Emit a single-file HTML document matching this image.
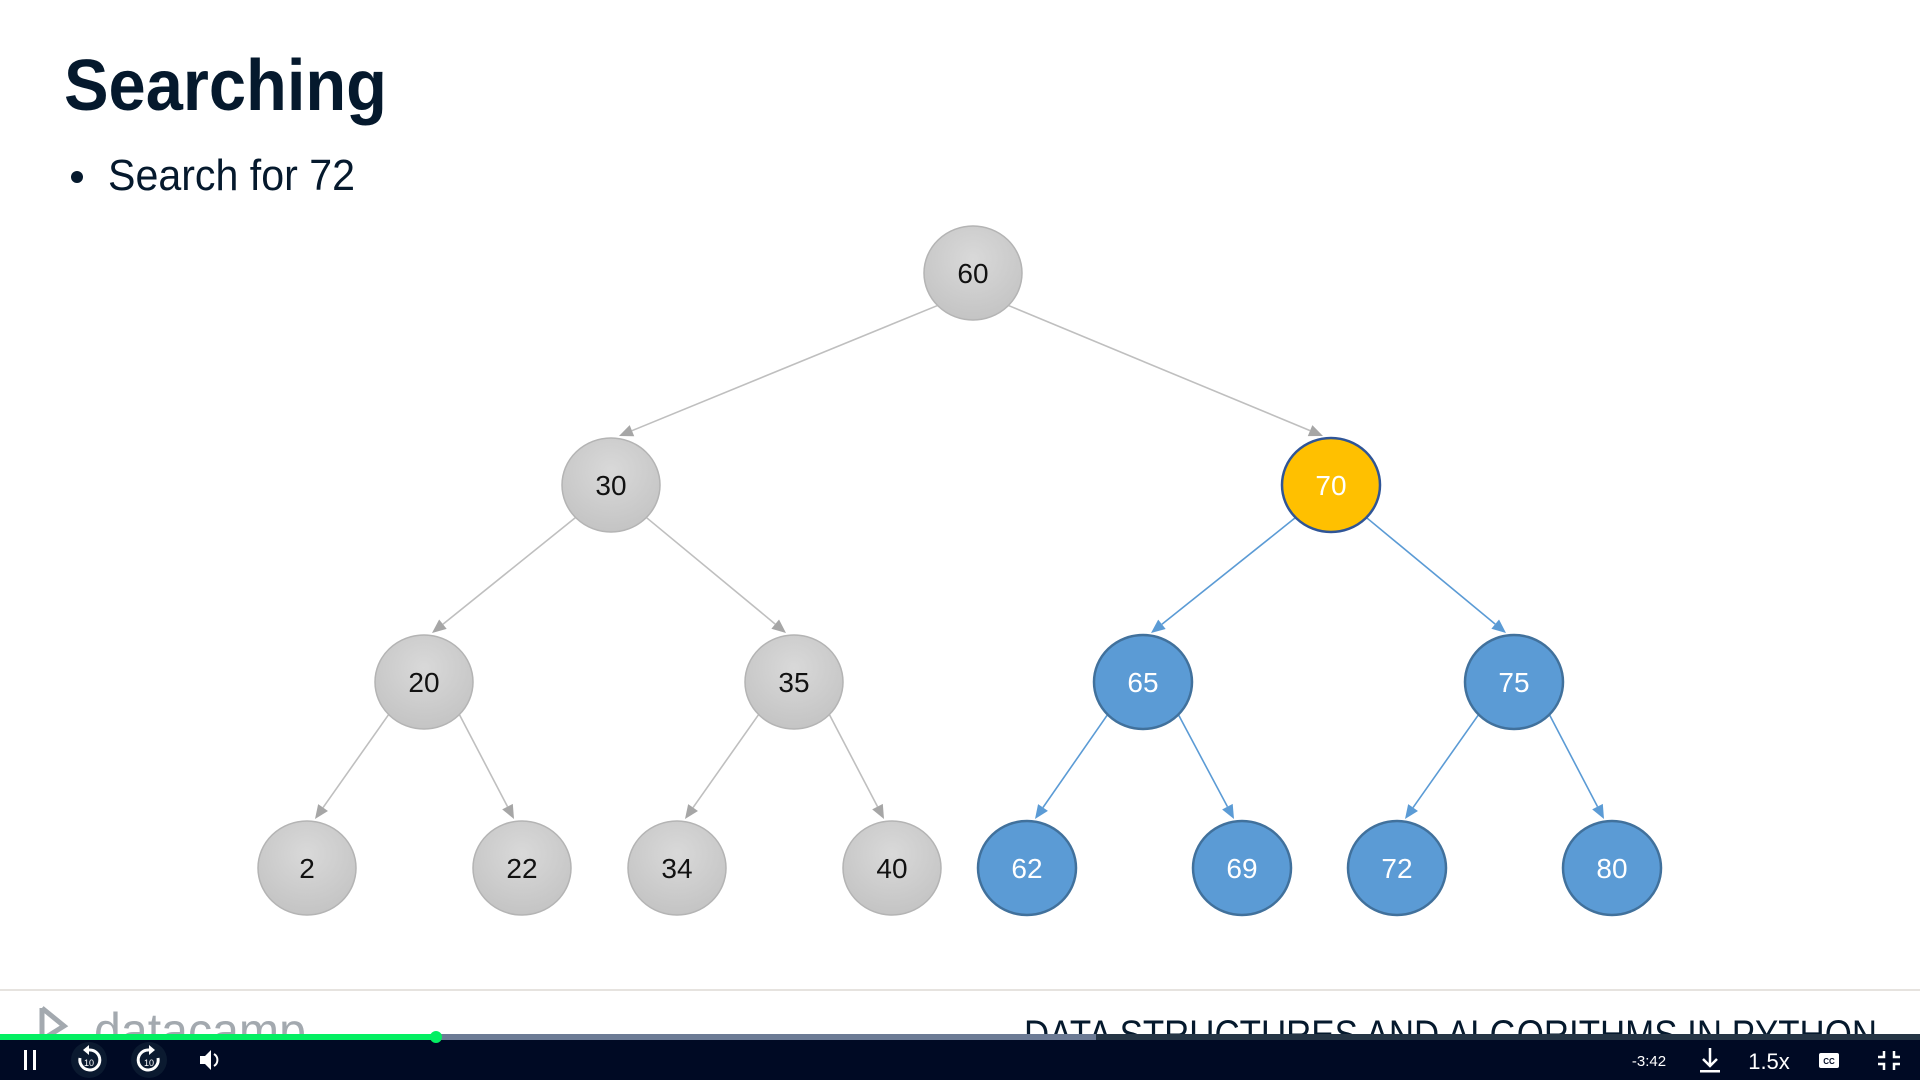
<!DOCTYPE html>
<html><head><meta charset="utf-8"><style>
html,body{margin:0;padding:0;background:#fff;width:1920px;height:1080px;overflow:hidden}
svg{display:block}
</style></head><body>
<svg id="s" width="1920" height="1080" viewBox="0 0 1920 1080" xmlns="http://www.w3.org/2000/svg">
<defs>
<radialGradient id="gg" cx="50%" cy="35%" r="65%"><stop offset="0" stop-color="#d9d9d9"/><stop offset="1" stop-color="#c4c4c4"/></radialGradient>
</defs>
<text x="64" y="110" font-family="Liberation Sans, sans-serif" font-weight="bold" font-size="72" fill="#05192d" textLength="323" lengthAdjust="spacingAndGlyphs">Searching</text>
<circle cx="77" cy="177" r="6" fill="#05192d"/>
<text x="108" y="190" font-family="Liberation Sans, sans-serif" font-size="44" fill="#05192d" textLength="247" lengthAdjust="spacingAndGlyphs">Search for 72</text>
<g id="tree"></g>
<line x1="0" y1="990" x2="1920" y2="990" stroke="#e6e3df" stroke-width="2"/>
<g>
<path d="M42 1008 L42 1040 M42 1008 L64 1026 L48 1036" stroke="#a3a9af" stroke-width="5" fill="none"/>
<text x="94" y="1048" font-family="Liberation Sans, sans-serif" font-size="50" fill="#a3a9af" textLength="212" lengthAdjust="spacingAndGlyphs">datacamp</text>
</g>
<text x="1024" y="1048" font-family="Liberation Sans, sans-serif" font-size="40" fill="#05192d" textLength="853" lengthAdjust="spacingAndGlyphs">DATA STRUCTURES AND ALGORITHMS IN PYTHON</text>
<rect x="0" y="1035" width="1920" height="45" fill="#000a24"/>
<rect x="0" y="1034" width="1920" height="6" fill="#253545"/>
<rect x="436" y="1034" width="660" height="6" fill="#6c7b95"/>
<rect x="0" y="1034" width="436" height="6" fill="#03ef62"/>
<circle cx="436" cy="1037" r="6" fill="#03ef62"/>
<g><rect x="24" y="1050" width="3" height="20" fill="#fff"/><rect x="33" y="1050" width="3" height="20" fill="#fff"/></g>
<g><circle cx="89" cy="1060" r="18" fill="#0b1a30"/><path d="M80 1058 A10 10 0 1 0 89 1050" stroke="#fff" stroke-width="3" fill="none"/><path d="M89 1045 L83 1050 L89 1055Z" fill="#fff"/><text x="89" y="1066" font-size="9" text-anchor="middle" fill="#fff" font-family="Liberation Sans, sans-serif">10</text></g>
<g><circle cx="149" cy="1060" r="18" fill="#0b1a30"/><path d="M158 1058 A10 10 0 1 1 149 1050" stroke="#fff" stroke-width="3" fill="none"/><path d="M149 1045 L155 1050 L149 1055Z" fill="#fff"/><text x="149" y="1066" font-size="9" text-anchor="middle" fill="#fff" font-family="Liberation Sans, sans-serif">10</text></g>
<g><path d="M200 1056 h5 l6 -6 v20 l-6 -6 h-5z" fill="#fff"/><path d="M214 1054 a7 7 0 0 1 0 12" stroke="#fff" stroke-width="2" fill="none"/></g>
<text x="1649" y="1066" font-size="15" text-anchor="middle" fill="#fff" font-family="Liberation Sans, sans-serif">-3:42</text>
<g><path d="M1710 1048 v18 M1703 1059 l7 7 l7 -7" stroke="#fff" stroke-width="2.5" fill="none"/><rect x="1700" y="1070" width="20" height="2.5" fill="#fff"/></g>
<text x="1769" y="1069" font-size="22" text-anchor="middle" fill="#fff" font-family="Liberation Sans, sans-serif">1.5x</text>
<g><rect x="1819" y="1053" width="20" height="15" rx="2" fill="#fff"/><text x="1829" y="1064" font-size="8" font-weight="bold" text-anchor="middle" fill="#000a24" font-family="Liberation Sans, sans-serif">CC</text></g>
<g stroke="#fff" stroke-width="2.5" fill="none"><path d="M1884 1051 v6 h-6 M1894 1051 v6 h6 M1884 1070 v-6 h-6 M1894 1070 v-6 h6"/></g>
</svg>
<script>
const nodeValues = [60, 30, 70, 20, 35, 65, 75, 2, 22, 34, 40, 62, 69, 72, 80];
const nodeStates = ["gray","gray","current","gray","gray","blue","blue","gray","gray","gray","gray","blue","blue","blue","blue"];
const levelY = [273, 485, 682, 868];
const levelX = [[973],[611,1331],[424,794,1143,1514],[307,522,677,892,1027,1242,1397,1612]];
const RX = 49, RY = 47;
const NS = "http://www.w3.org/2000/svg";
const g = document.getElementById('tree');
function pos(i){ const l = Math.floor(Math.log2(i+1)); const k = i - (2**l - 1); return [levelX[l][k], levelY[l]]; }
const edges = document.createElementNS(NS,'g');
g.appendChild(edges);
for (let i=1;i<nodeValues.length;i++){
  const p = Math.floor((i-1)/2);
  const [px,py] = pos(p), [cx,cy] = pos(i);
  const dir = cx < px ? -1 : 1;
  const s = [px + dir*RX*0.72, py + RY*0.69];
  const e = [cx - dir*8, cy - RY - 2];
  const dx = e[0]-s[0], dy = e[1]-s[1], len = Math.hypot(dx,dy);
  const col = nodeStates[i]==='blue' ? '#5b9bd5' : '#bfbfbf';
  const ux = dx/len, uy = dy/len, al = 14, aw = 6;
  const bx = e[0]-ux*al, by = e[1]-uy*al;
  const ln = document.createElementNS(NS,'line');
  
  
  ln.setAttribute('x1',s[0]); ln.setAttribute('y1',s[1]); ln.setAttribute('x2',bx); ln.setAttribute('y2',by);
  ln.setAttribute('stroke',col); ln.setAttribute('stroke-width','1.6');
  edges.appendChild(ln);
  const ah = document.createElementNS(NS,'polygon');
  
  
  ah.setAttribute('points', `${e[0]},${e[1]} ${bx-uy*aw},${by+ux*aw} ${bx+uy*aw},${by-ux*aw}`);
  ah.setAttribute('fill', nodeStates[i]==='blue' ? '#5b9bd5' : '#a6a6a6');
  edges.appendChild(ah);
}
for (let i=0;i<nodeValues.length;i++){
  const [x,y] = pos(i);
  const st = nodeStates[i];
  const ng = document.createElementNS(NS,'g');
  
  
  const el = document.createElementNS(NS,'ellipse');
  el.setAttribute('cx',x); el.setAttribute('cy',y); el.setAttribute('rx',RX); el.setAttribute('ry',RY);
  el.setAttribute('fill', st==='gray' ? 'url(#gg)' : st==='blue' ? '#5b9bd5' : '#ffc000');
  el.setAttribute('stroke', st==='gray' ? '#b4b4b4' : st==='blue' ? '#41719c' : '#2f5597');
  el.setAttribute('stroke-width', st==='gray' ? '1.5' : '2.5');
  ng.appendChild(el);
  const t = document.createElementNS(NS,'text');
  t.setAttribute('x',x); t.setAttribute('y',y+10);
  t.setAttribute('text-anchor','middle');
  t.setAttribute('font-family','Liberation Sans, sans-serif');
  t.setAttribute('font-size','28');
  t.setAttribute('fill', st==='gray' ? '#111' : '#fff');
  t.textContent = nodeValues[i];
  ng.appendChild(t);
  g.appendChild(ng);
}
</script>
</body></html>
